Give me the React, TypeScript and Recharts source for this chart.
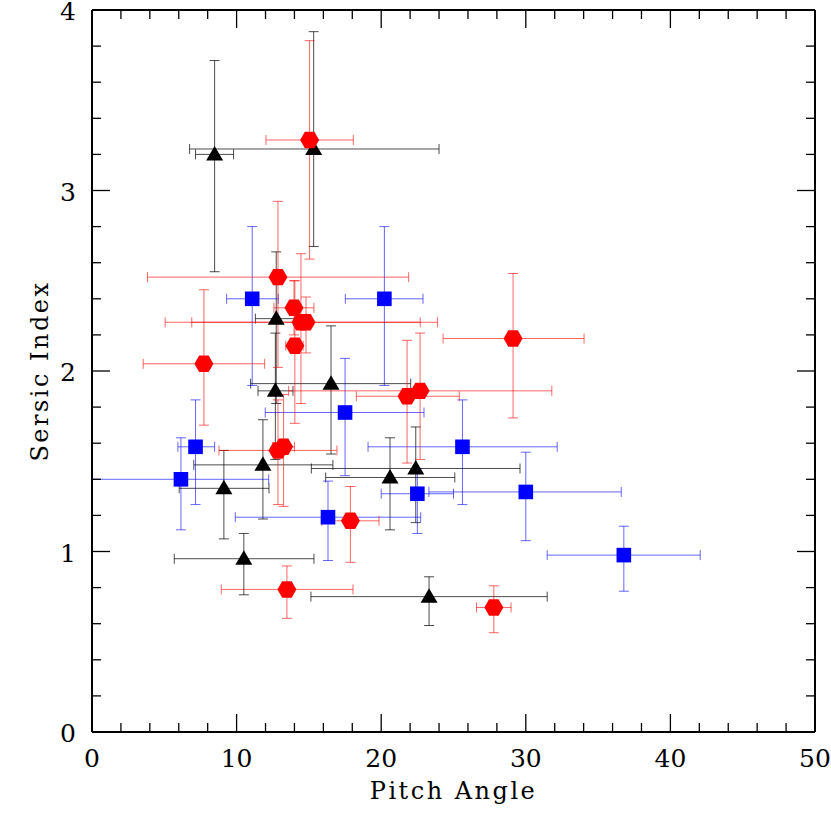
import { ScatterChart, Scatter, XAxis, YAxis, ErrorBar } from "recharts";

// [x, y, xLow, xHigh, yLow, yHigh]
type Pt = [number, number, number, number, number, number];

const BLACK_PTS: Pt[] = [
  [8.48, 3.2, 7.16, 9.79, 2.55, 3.72],
  [15.33, 3.23, 6.75, 24.0, 2.69, 3.88],
  [12.74, 2.29, 11.3, 14.8, 1.82, 2.66],
  [12.68, 1.89, 11.48, 13.9, 1.51, 2.21],
  [16.53, 1.93, 10.97, 22.04, 1.54, 2.25],
  [11.82, 1.48, 7.04, 16.66, 1.18, 1.73],
  [9.12, 1.35, 6.03, 12.24, 1.07, 1.56],
  [20.61, 1.41, 16.16, 25.09, 1.12, 1.63],
  [22.39, 1.46, 15.17, 29.6, 1.16, 1.69],
  [10.5, 0.96, 5.69, 15.35, 0.76, 1.1],
  [23.31, 0.75, 15.14, 31.48, 0.59, 0.86],
];

const BLUE_PTS: Pt[] = [
  [11.08, 2.4, 9.31, 12.88, 1.92, 2.8],
  [20.22, 2.4, 17.52, 22.89, 1.92, 2.8],
  [17.5, 1.77, 11.98, 22.96, 1.42, 2.07],
  [7.16, 1.58, 5.94, 8.48, 1.26, 1.84],
  [6.15, 1.4, 0.0, 12.22, 1.12, 1.63],
  [16.32, 1.19, 9.91, 22.73, 0.95, 1.39],
  [22.5, 1.32, 20.0, 25.0, 1.1, 1.46],
  [25.62, 1.58, 19.09, 32.17, 1.26, 1.84],
  [30.0, 1.33, 23.3, 36.6, 1.06, 1.55],
  [36.78, 0.98, 31.48, 42.06, 0.78, 1.14],
];

const RED_PTS: Pt[] = [
  [15.05, 3.28, 12.03, 18.07, 2.62, 3.83],
  [12.86, 2.52, 3.84, 21.9, 2.02, 2.94],
  [13.97, 2.35, 12.58, 15.35, 2.2, 2.5],
  [14.45, 2.27, 5.06, 22.7, 1.82, 2.65],
  [14.8, 2.27, 6.9, 23.9, 2.1, 2.41],
  [14.03, 2.14, 13.4, 14.6, 1.71, 2.5],
  [7.74, 2.04, 3.54, 11.94, 1.7, 2.45],
  [22.69, 1.89, 13.6, 31.8, 1.51, 2.21],
  [21.79, 1.86, 18.28, 25.4, 1.49, 2.17],
  [29.12, 2.18, 24.28, 34.03, 1.74, 2.54],
  [12.86, 1.56, 8.78, 16.94, 1.26, 1.84],
  [13.25, 1.58, 12.5, 14.0, 1.25, 1.87],
  [17.87, 1.17, 15.9, 19.85, 0.94, 1.36],
  [13.48, 0.79, 8.94, 18.05, 0.63, 0.92],
  [27.79, 0.69, 26.59, 28.98, 0.55, 0.81],
];

const X_TICKS = [0, 2, 4, 6, 8, 10, 12, 14, 16, 18, 20, 22, 24, 26, 28, 30, 32, 34, 36, 38, 40, 42, 44, 46, 48, 50];
const Y_TICKS = [0, 0.2, 0.4, 0.6, 0.8, 1, 1.2, 1.4, 1.6, 1.8, 2, 2.2, 2.4, 2.6, 2.8, 3, 3.2, 3.4, 3.6, 3.8, 4];

const FONT = "'DejaVu Serif', serif";
const X_MARGIN = 35;
const Y_MARGIN = 16;
const MAJOR = 18;
const MINOR = 9;

const toRows = (pts: Pt[]) =>
  pts.map(([x, y, xl, xh, yl, yh]) => ({
    x,
    y,
    ex: [x - xl, xh - x],
    ey: [y - yl, yh - y],
  }));

const isMajorX = (v: number) => Math.abs(v % 10) < 1e-6;
const isMajorY = (v: number) => Math.abs(v - Math.round(v)) < 1e-6;

function BottomTick(props: any) {
  const { x, y, payload } = props;
  const v = payload.value;
  const y0 = y - X_MARGIN;
  return (
    <g>
      <line x1={x} x2={x} y1={y0} y2={y0 - (isMajorX(v) ? MAJOR : MINOR)} stroke="#000" strokeWidth={1.3} />
      {isMajorX(v) && (
        <text x={x} y={y} textAnchor="middle" fontFamily={FONT} fontSize={25} fill="#000">
          {v}
        </text>
      )}
    </g>
  );
}

function TopTick(props: any) {
  const { x, y, payload } = props;
  const v = payload.value;
  return <line x1={x} x2={x} y1={y} y2={y + (isMajorX(v) ? MAJOR : MINOR)} stroke="#000" strokeWidth={1.3} />;
}

function LeftTick(props: any) {
  const { x, y, payload } = props;
  const v = payload.value;
  const x0 = x + Y_MARGIN;
  return (
    <g>
      <line x1={x0} x2={x0 + (isMajorY(v) ? MAJOR : MINOR)} y1={y} y2={y} stroke="#000" strokeWidth={1.3} />
      {isMajorY(v) && (
        <text x={x} y={y + 10} textAnchor="end" fontFamily={FONT} fontSize={25} fill="#000">
          {Math.round(v)}
        </text>
      )}
    </g>
  );
}

function RightTick(props: any) {
  const { x, y, payload } = props;
  const v = payload.value;
  return <line x1={x} x2={x - (isMajorY(v) ? MAJOR : MINOR)} y1={y} y2={y} stroke="#000" strokeWidth={1.3} />;
}

function Hexagon(props: any) {
  const { cx, cy } = props;
  const r = 9.5;
  const h = r * 0.866;
  const pts = [
    [cx - r, cy],
    [cx - r / 2, cy - h],
    [cx + r / 2, cy - h],
    [cx + r, cy],
    [cx + r / 2, cy + h],
    [cx - r / 2, cy + h],
  ]
    .map((p) => p.join(","))
    .join(" ");
  return <polygon points={pts} fill="#ff0000" />;
}

function Square(props: any) {
  const { cx, cy } = props;
  const s = 7.3;
  return <rect x={cx - s} y={cy - s} width={s * 2} height={s * 2} fill="#0000ff" />;
}

function Triangle(props: any) {
  const { cx, cy } = props;
  const pts = `${cx - 8.5},${cy + 6} ${cx + 8.5},${cy + 6} ${cx},${cy - 8.5}`;
  return <polygon points={pts} fill="#000" />;
}

const axisLine = { stroke: "#000", strokeWidth: 2 };

export default function App() {
  return (
    <div style={{ position: "absolute", left: 0, top: 0, background: "#fff" }}>
      <ScatterChart width={831} height={825} margin={{ top: 0, right: 0, bottom: 0, left: 0 }}>
        <XAxis
          xAxisId="b"
          type="number"
          dataKey="x"
          domain={[0, 50]}
          allowDataOverflow
          ticks={X_TICKS}
          interval={0}
          orientation="bottom"
          height={93}
          tickSize={0}
          tickMargin={X_MARGIN}
          tick={BottomTick}
          tickLine={false}
          axisLine={axisLine}
          label={{
            value: "Pitch Angle",
            position: "insideBottom",
            offset: 26,
            fontFamily: FONT,
            fontSize: 24,
            letterSpacing: 2.5,
            fill: "#000",
          }}
        />
        <XAxis
          xAxisId="t"
          type="number"
          dataKey="x"
          domain={[0, 50]}
          allowDataOverflow
          ticks={X_TICKS}
          interval={0}
          orientation="top"
          height={10}
          tickSize={0}
          tickMargin={0}
          tick={TopTick}
          tickLine={false}
          axisLine={axisLine}
        />
        <YAxis
          yAxisId="l"
          type="number"
          dataKey="y"
          domain={[0, 4]}
          allowDataOverflow
          ticks={Y_TICKS}
          interval={0}
          orientation="left"
          width={92}
          tickSize={0}
          tickMargin={Y_MARGIN}
          tick={LeftTick}
          tickLine={false}
          axisLine={axisLine}
          label={{
            content: (p: any) => {
              const vb = p.viewBox;
              const cx = vb.x + 39;
              const cy = vb.y + vb.height / 2;
              return (
                <text
                  x={cx}
                  y={cy}
                  transform={`rotate(-90 ${cx} ${cy})`}
                  textAnchor="middle"
                  dy="0.36em"
                  fontFamily={FONT}
                  fontSize={24}
                  letterSpacing={2.5}
                  fill="#000"
                >
                  Sersic Index
                </text>
              );
            },
          }}
        />
        <YAxis
          yAxisId="r"
          type="number"
          dataKey="y"
          domain={[0, 4]}
          allowDataOverflow
          ticks={Y_TICKS}
          interval={0}
          orientation="right"
          width={16}
          tickSize={0}
          tickMargin={0}
          tick={RightTick}
          tickLine={false}
          axisLine={axisLine}
        />
        <Scatter data={toRows(BLACK_PTS)} xAxisId="t" yAxisId="r" shape={Triangle} isAnimationActive={false}>
          <ErrorBar dataKey="ex" direction="x" width={5} stroke="#000" strokeOpacity={0.7} strokeWidth={1} isAnimationActive={false} />
          <ErrorBar dataKey="ey" direction="y" width={5} stroke="#000" strokeOpacity={0.7} strokeWidth={1} isAnimationActive={false} />
        </Scatter>
        <Scatter data={toRows(BLUE_PTS)} xAxisId="b" yAxisId="l" shape={Square} isAnimationActive={false}>
          <ErrorBar dataKey="ex" direction="x" width={5} stroke="#0000ff" strokeOpacity={0.6} strokeWidth={1} isAnimationActive={false} />
          <ErrorBar dataKey="ey" direction="y" width={5} stroke="#0000ff" strokeOpacity={0.6} strokeWidth={1} isAnimationActive={false} />
        </Scatter>
        <Scatter data={toRows(RED_PTS)} xAxisId="b" yAxisId="l" shape={Hexagon} isAnimationActive={false}>
          <ErrorBar dataKey="ex" direction="x" width={5} stroke="#ff0000" strokeOpacity={0.6} strokeWidth={1} isAnimationActive={false} />
          <ErrorBar dataKey="ey" direction="y" width={5} stroke="#ff0000" strokeOpacity={0.6} strokeWidth={1} isAnimationActive={false} />
        </Scatter>
      </ScatterChart>
    </div>
  );
}
